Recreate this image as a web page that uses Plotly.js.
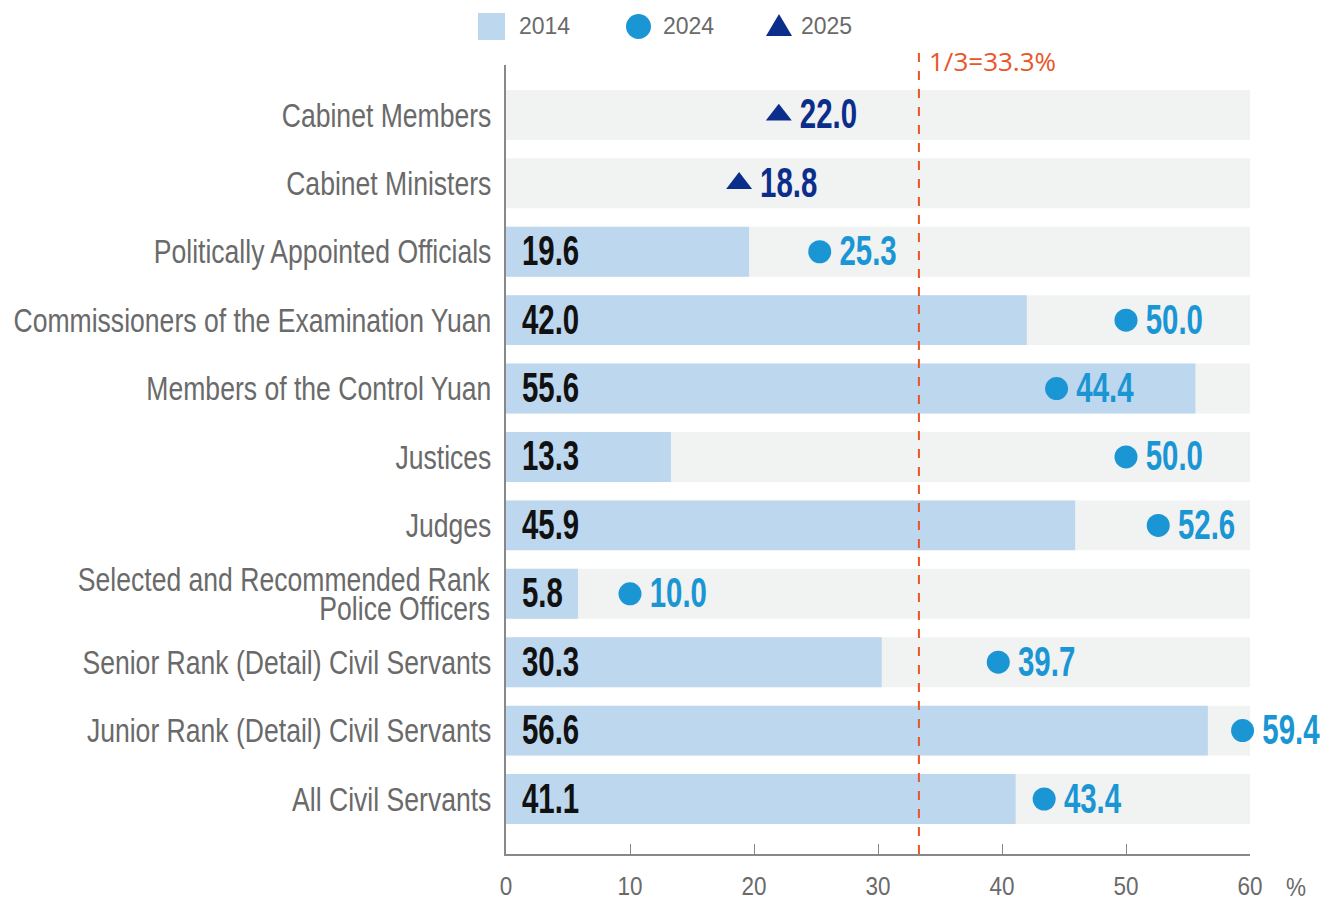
<!DOCTYPE html>
<html>
<head>
<meta charset="utf-8">
<script src="https://cdn.plot.ly/plotly-3.0.1.min.js"></script>
<style>html,body{margin:0;padding:0;background:#fff;}#chart{width:1334px;height:898px;}</style>
</head>
<body>
<div id="chart"></div>
<script>
const categories = [
  "Cabinet Members",
  "Cabinet Ministers",
  "Politically Appointed Officials",
  "Commissioners of the Examination Yuan",
  "Members of the Control Yuan",
  "Justices",
  "Judges",
  "Selected and Recommended Rank<br>Police Officers",
  "Senior Rank (Detail) Civil Servants",
  "Junior Rank (Detail) Civil Servants",
  "All Civil Servants"
];
const values2014 = [null, null, 19.6, 42.0, 55.6, 13.3, 45.9, 5.8, 30.3, 56.6, 41.1];
const values2024 = [null, null, 25.3, 50.0, 44.4, 50.0, 52.6, 10.0, 39.7, 59.4, 43.4];
const values2025 = [22.0, 18.8, null, null, null, null, null, null, null, null, null];
const xTicks = [0, 10, 20, 30, 40, 50, 60];
const axisMax = 60;
const oneThird = 33.3;
const legendNames = ['2014', '2024', '2025'];

const arial = "'Liberation Sans', Arial, sans-serif";
const fmt = v => (v === null ? '' : v.toFixed(1));

const C_BG = '#f1f2f2', C14 = '#bdd7ee', C24 = '#1a96d4', C25 = '#0b2e8c', C_RED = '#e8562a';

const traces = [
  {type: 'bar', orientation: 'h', y: categories, x: categories.map(() => axisMax),
   marker: {color: C_BG}, width: 0.73, hoverinfo: 'skip', showlegend: false},
  {type: 'bar', orientation: 'h', y: categories, x: values2014, name: '2014',
   marker: {color: C14}, width: 0.73, showlegend: false},
  {type: 'scatter', mode: 'markers+text', y: categories,
   x: values2014.map(v => v === null ? null : 0),
   text: values2014.map(fmt), textposition: 'middle right',
   marker: {size: 24, color: 'rgba(0,0,0,0)'},
   textfont: {family: arial, size: 42, color: '#111', weight: 'bold'},
   showlegend: false, hoverinfo: 'skip', cliponaxis: false},
  {type: 'scatter', mode: 'markers', y: categories, x: values2024, name: '2024',
   marker: {symbol: 'circle', size: 23, color: C24}, showlegend: false, cliponaxis: false},
  {type: 'scatter', mode: 'markers+text', y: categories, x: values2024,
   text: values2024.map(fmt), textposition: 'middle right',
   marker: {size: 30, color: 'rgba(0,0,0,0)'},
   textfont: {family: arial, size: 42, color: C24, weight: 'bold'},
   showlegend: false, hoverinfo: 'skip', cliponaxis: false},
  {type: 'scatter', mode: 'markers', y: categories, x: values2025, name: '2025',
   marker: {symbol: 'triangle-up', size: 22.5, color: C25}, showlegend: false, cliponaxis: false},
  {type: 'scatter', mode: 'markers+text', y: categories, x: values2025,
   text: values2025.map(fmt), textposition: 'middle right',
   marker: {size: 32, color: 'rgba(0,0,0,0)'},
   textfont: {family: arial, size: 42, color: C25, weight: 'bold'},
   showlegend: false, hoverinfo: 'skip', cliponaxis: false}
];

const L = 506, T = 65, W = 1334 - 506 - 84, H = 898 - 65 - 44;
const px = x => (x - L) / W, py = y => 1 - (y - T) / H;

const catAnn = [];
categories.forEach((c, i) => {
  if (c.includes('<br>')) {
    const lines = c.split('<br>');
    lines.forEach((ln, k) => {
      catAnn.push({xref: 'paper', yref: 'y', x: 0, y: c, xanchor: 'right', yanchor: 'middle', align: 'right',
        xshift: -14, yshift: (lines.length - 1) * 14.5 - k * 29, text: ln, showarrow: false,
        font: {family: arial, size: 33, color: '#6a6a6a'}, _cond: 0.805});
    });
  }
});

const layout = {
  width: 1334, height: 898,
  margin: {l: L, r: 84, t: T, b: 44},
  paper_bgcolor: '#fff', plot_bgcolor: '#fff',
  barmode: 'overlay', showlegend: false,
  xaxis: {
    range: [0, axisMax], tickvals: xTicks, ticks: 'inside', ticklen: 10, tickwidth: 1,
    tickcolor: '#888', showline: true, linecolor: '#888', linewidth: 2,
    showgrid: false, zeroline: false, ticklabelstandoff: 9,
    tickfont: {family: arial, size: 25, color: '#6a6a6a'}
  },
  yaxis: {
    type: 'category', categoryarray: categories, categoryorder: 'array',
    tickvals: categories, ticktext: categories.map(c => c.includes('<br>') ? '' : c),
    range: [10.804, -0.73], showline: true, linecolor: '#888', linewidth: 2,
    showgrid: false, zeroline: false, ticks: '', ticklabelstandoff: 6,
    tickfont: {family: arial, size: 33, color: '#6a6a6a'}
  },
  shapes: [
    {type: 'line', xref: 'x', yref: 'paper', x0: oneThird, x1: oneThird, y0: 0, y1: py(47),
     line: {color: C_RED, width: 2, dash: 'dash'}},
    {type: 'rect', xref: 'paper', yref: 'paper', x0: px(478), x1: px(505), y0: py(40), y1: py(13),
     fillcolor: C14, line: {width: 0}},
    {type: 'circle', xref: 'paper', yref: 'paper', x0: px(626), x1: px(651), y0: py(39), y1: py(14),
     fillcolor: C24, line: {width: 0}},
    {type: 'path', xref: 'paper', yref: 'paper',
     path: 'M' + px(766) + ',' + py(36) + ' L' + px(792) + ',' + py(36) + ' L' + px(779) + ',' + py(14) + ' Z',
     fillcolor: C25, line: {width: 0}}
  ],
  annotations: [
    {xref: 'paper', yref: 'paper', x: px(517), y: py(26), xanchor: 'left', yanchor: 'middle',
     text: legendNames[0], showarrow: false, font: {family: arial, size: 23, color: '#6a6a6a'}},
    {xref: 'paper', yref: 'paper', x: px(661), y: py(26), xanchor: 'left', yanchor: 'middle',
     text: legendNames[1], showarrow: false, font: {family: arial, size: 23, color: '#6a6a6a'}},
    {xref: 'paper', yref: 'paper', x: px(799), y: py(26), xanchor: 'left', yanchor: 'middle',
     text: legendNames[2], showarrow: false, font: {family: arial, size: 23, color: '#6a6a6a'}},
    {xref: 'x', yref: 'paper', x: oneThird, y: py(61), xanchor: 'left', yanchor: 'middle', xshift: 8,
     text: '1/3=33.3%', showarrow: false, font: {family: "'Open Sans', 'Noto Sans', sans-serif", size: 26, color: C_RED}},
    {xref: 'paper', yref: 'paper', x: px(1284), y: py(887), xanchor: 'left', yanchor: 'middle', align: 'left',
     text: '%', showarrow: false, font: {family: arial, size: 25, color: '#6a6a6a'}, _cond: 0.9}
  ].concat(catAnn)
};

const condIdx = {};
layout.annotations.forEach((a, i) => { if (a._cond) { condIdx[i] = a._cond; } delete a._cond; });

function condense(el, s) {
  const lines = el.querySelectorAll('tspan.line');
  const targets = lines.length ? Array.from(lines) : [el];
  targets.forEach(t => {
    const len = t.getComputedTextLength();
    if (len > 0) {
      t.setAttribute('textLength', (len * s).toFixed(2));
      t.setAttribute('lengthAdjust', 'spacingAndGlyphs');
    }
  });
}

Plotly.newPlot('chart', traces, layout, {displayModeBar: false, staticPlot: true}).then(gd => {
  gd.querySelectorAll('g.ytick text').forEach(t => condense(t, 0.805));
  gd.querySelectorAll('g.xtick text').forEach(t => condense(t, 0.9));
  gd.querySelectorAll('g.textpoint text').forEach(t => {
    condense(t, 0.70);
    const y = parseFloat(t.getAttribute('y'));
    if (!isNaN(y)) t.setAttribute('y', (y + 3).toFixed(2));
  });
  gd.querySelectorAll('g.annotation').forEach(g => {
    const idx = +g.getAttribute('data-index');
    if (condIdx[idx]) { const t = g.querySelector('text'); if (t) condense(t, condIdx[idx]); }
  });
});
</script>
</body>
</html>
